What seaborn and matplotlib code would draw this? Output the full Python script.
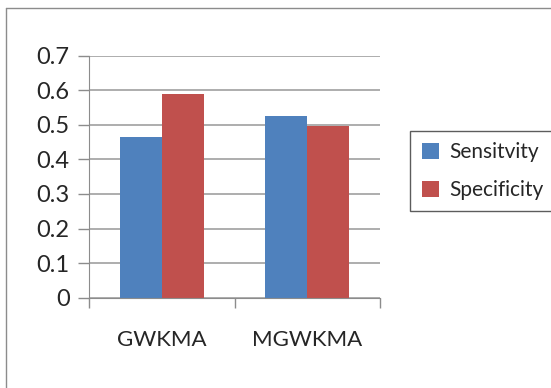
import matplotlib
matplotlib.use("Agg")
import matplotlib.pyplot as plt
from matplotlib.lines import Line2D
from matplotlib.ticker import FixedLocator
import seaborn as sns
import pandas as pd

methods = ["GWKMA", "MGWKMA"]
series = ["Sensitvity", "Specificity"]
sensitivity = [0.465, 0.525]
specificity = [0.589, 0.495]
y_ticks = [0, 0.1, 0.2, 0.3, 0.4, 0.5, 0.6, 0.7]
colors = ["#4F81BD", "#C0504D"]

df = pd.DataFrame({
    "method": methods * 2,
    "metric": [series[0]] * 2 + [series[1]] * 2,
    "value": sensitivity + specificity,
})

sns.set_style("white")
plt.rcParams["font.family"] = ["Lato", "DejaVu Sans"]

W, H = 551, 388
fig = plt.figure(figsize=(W / 100, H / 100), dpi=100)
ax = fig.add_axes([89 / W, 1 - 297.7 / H, (380 - 89) / W, (297.7 - 55.5) / H])

sns.barplot(data=df, x="method", y="value", hue="metric", palette=colors,
            width=0.58, saturation=1, linewidth=0, edgecolor="none",
            ax=ax, legend=True)

ax.set_ylim(0, 0.7)
ax.set_xlim(-0.5, 1.5)
ax.yaxis.set_major_locator(FixedLocator(y_ticks))
ax.set_yticklabels([f"{t:g}" for t in y_ticks])
ax.grid(axis="y", color="#A0A0A0", linewidth=1.2)
ax.set_axisbelow(True)
for s in ["top", "right"]:
    ax.spines[s].set_visible(False)
ax.spines["left"].set_color("#8C8C8C")
ax.spines["bottom"].set_color("#8C8C8C")
ax.set_xlabel("")
ax.set_ylabel("")

# y ticks point out to the left
ax.tick_params(axis="y", left=True, length=8, width=1, color="#8C8C8C",
               labelsize=17, pad=6)
# category ticks at the boundaries, labels at the centres
ax.set_xticks([0, 1])
ax.set_xticklabels(methods)
ax.tick_params(axis="x", bottom=False, labelsize=16, pad=20)
ax.set_xticks([-0.5, 0.5, 1.5], minor=True)
ax.tick_params(axis="x", which="minor", bottom=True, length=7, width=1,
               color="#8C8C8C")

leg = ax.legend(loc="center left", bbox_to_anchor=(400 / W, 1 - 171 / H),
                bbox_transform=fig.transFigure, frameon=True, fontsize=15,
                handlelength=0.8, handleheight=0.8, handletextpad=0.5,
                labelspacing=0.85, borderpad=0.55, fancybox=False,
                edgecolor="#333333")
leg.get_frame().set_linewidth(1)

# chart area border
fig.add_artist(Line2D([6 / W, 6 / W], [0, 1 - 8 / H], transform=fig.transFigure,
                      color="#8C8C8C", linewidth=1))
fig.add_artist(Line2D([6 / W, 1], [1 - 8 / H, 1 - 8 / H], transform=fig.transFigure,
                      color="#8C8C8C", linewidth=1))

fig.savefig("out.png", dpi=100)
